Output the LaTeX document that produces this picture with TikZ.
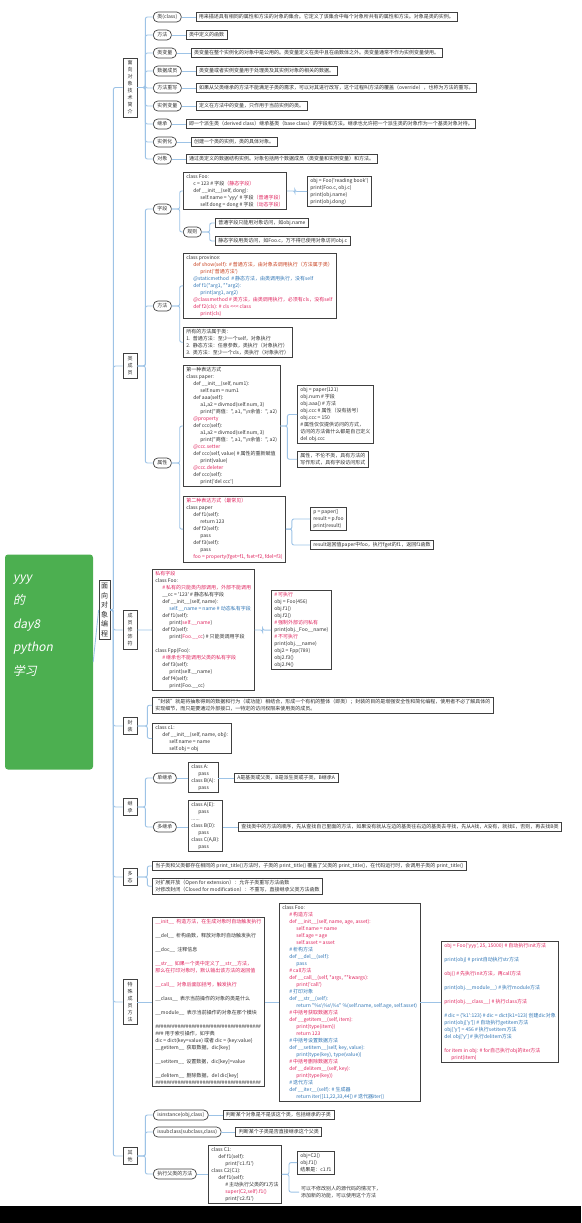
\documentclass[tikz,border=0pt]{standalone}
\usepackage{fontspec}
\setmainfont{Noto Sans CJK SC}[Ligatures=TeXOff]
\newfontfamily\rootfont{Noto Sans CJK SC}[FakeSlant=0.2]
\usetikzlibrary{positioning}
\definecolor{linkblue}{HTML}{9DC3E6}
\definecolor{edge}{HTML}{404040}
\definecolor{ink}{HTML}{303030}
\definecolor{hot}{HTML}{E0245E}
\definecolor{warm}{HTML}{C8401E}
\definecolor{cool}{HTML}{2F75B5}
\definecolor{leaf}{HTML}{4CAF50}
\newcommand\mapfont{\fontsize{5}{7}\selectfont}
\newcommand\tb{\hspace*{7pt}}
\newcommand\rtxt[1]{\textcolor{hot}{#1}}
\newcommand\otxt[1]{\textcolor{warm}{#1}}
\newcommand\btxt[1]{\textcolor{cool}{#1}}
\tikzset{
  root/.style  = {rectangle, rounded corners=3pt, fill=leaf, text=white, font=\rootfont\fontsize{12}{23.5}\selectfont, inner xsep=8pt, inner ysep=20pt, minimum width=88pt, minimum height=215pt},
  topic/.style = {draw=edge, line width=0.8pt, fill=white, align=center, font=\fontsize{7}{9.5}\selectfont, inner xsep=2pt, inner ysep=3pt, text=ink},
  sec/.style   = {draw=edge, line width=0.7pt, fill=white, align=center, font=\mapfont, inner xsep=3pt, inner ysep=3pt, text=ink, minimum width=14pt},
  lbl/.style   = {draw=edge, line width=0.7pt, rounded corners=4.5pt, fill=white, font=\mapfont, inner xsep=4pt, inner ysep=2pt, text=ink, minimum height=10pt},
  note/.style  = {draw=edge, line width=0.7pt, fill=white, align=left, font=\mapfont, inner xsep=3pt, inner ysep=2pt, text=ink},
  bare/.style  = {align=left, font=\mapfont, inner sep=2pt, text=ink},
  link/.style  = {draw=linkblue, line width=0.9pt, rounded corners=2pt},
  elbow/.style = {to path={-- ++(#1,0) |- (\tikztotarget)}},
  elbow/.default = 8
}

\begin{document}
\begin{tikzpicture}[x=1pt, y=-1pt]
  \useasboundingbox (0,0) rectangle (581,1223);
  \fill[black] (0,1206) rectangle (581,1223);

  % ---- root and main topic ----
  \node[root] (root) at (49,662) {\parbox[c][175pt][t]{72pt}{\raggedright yyy\\的\\day8\\python\\学习}};
  \node[topic] (oop) at (104.5,610) {面\\向\\对\\象\\编\\程};
  \draw[link] (root.east) -- (oop.west);

  % ---- sections ----
  \node[sec] (intro) at (130,87.5) {面\\向\\对\\象\\技\\术\\简\\介};
  \node[sec] (memb)  at (130,366)  {类\\成\\员};
  \node[sec] (modf)  at (130,630)  {成\\员\\修\\饰\\符};
  \node[sec] (encap) at (130,726)  {封\\装};
  \node[sec] (inher) at (130,807)  {继\\承};
  \node[sec] (poly)  at (130,877)  {多\\态};
  \node[sec] (spec)  at (130,1002) {特\\殊\\成\\员\\方\\法};
  \node[sec] (misc)  at (130,1156) {其\\他};
  \foreach \s in {intro,memb,modf,encap,inher,poly,spec,misc}
    \draw[link] (oop.east) to[elbow=3] (\s.west);

  % ---- 面向对象技术简介 ----
  \node[lbl,anchor=west] (cls)  at (153,17)  {类(class)};
  \node[lbl,anchor=west] (mth)  at (153,35)  {方法};
  \node[lbl,anchor=west] (cvar) at (153,53)  {类变量};
  \node[lbl,anchor=west] (dmem) at (153,71)  {数据成员};
  \node[lbl,anchor=west] (ovr)  at (153,88)  {方法重写};
  \node[lbl,anchor=west] (ivar) at (153,106) {实例变量};
  \node[lbl,anchor=west] (inh)  at (153,124) {继承};
  \node[lbl,anchor=west] (inst) at (153,142) {实例化};
  \node[lbl,anchor=west] (objt) at (153,159) {对象};
  \node[note,right=14pt of cls]  (cls-d)  {用来描述具有相同的属性和方法的对象的集合。它定义了该集合中每个对象所共有的属性和方法。对象是类的实例。};
  \node[note,right=14pt of mth]  (mth-d)  {类中定义的函数};
  \node[note,right=14pt of cvar] (cvar-d) {类变量在整个实例化的对象中是公用的。类变量定义在类中且在函数体之外。类变量通常不作为实例变量使用。};
  \node[note,right=14pt of dmem] (dmem-d) {类变量或者实例变量用于处理类及其实例对象的相关的数据。};
  \node[note,right=14pt of ovr]  (ovr-d)  {如果从父类继承的方法不能满足子类的需求，可以对其进行改写，这个过程叫方法的覆盖（override），也称为方法的重写。};
  \node[note,right=14pt of ivar] (ivar-d) {定义在方法中的变量，只作用于当前实例的类。};
  \node[note,right=14pt of inh]  (inh-d)  {即一个派生类（derived class）继承基类（base class）的字段和方法。继承也允许把一个派生类的对象作为一个基类对象对待。};
  \node[note,right=14pt of inst] (inst-d) {创建一个类的实例，类的具体对象。};
  \node[note,right=14pt of objt] (objt-d) {通过类定义的数据结构实例。对象包括两个数据成员（类变量和实例变量）和方法。};
  \foreach \a in {cls,mth,cvar,dmem,ovr,ivar,inh,inst,objt} {
    \draw[link] (intro.east) to[elbow] (\a.west);
    \draw[link] (\a.east) -- (\a-d.west);
  }

  % ---- 类成员: 字段 ----
  \node[lbl,anchor=west] (fld) at (153,209) {字段};
  \node[note,anchor=north west] (fld-code) at (183,172) {class Foo:\\
    \tb c = 123 \# 字段\rtxt{（静态字段）}\\
    \tb def \_\_init\_\_(self, dong):\\
    \tb\tb self.name = 'yyy' \# 字段\rtxt{（普通字段）}\\
    \tb\tb self.dong = dong \# 字段\rtxt{（动态字段）}};
  \node[note,anchor=north west] (fld-use) at (307,176) {obj = Foo('reading book')\\print(Foo.c, obj.c)\\print(obj.name)\\print(obj.dong)};
  \node[lbl,anchor=west] (rule) at (183,232) {规则};
  \node[note,anchor=west] (rule-a) at (215,223) {普通字段只能用对象访问，如obj.name};
  \node[note,anchor=west] (rule-b) at (215,241) {静态字段用类访问，如Foo.c，万不得已使用对象访问obj.c};
  \draw[link] (memb.east) to[elbow] (fld.west);
  \draw[link] (fld.east) to[elbow] (fld-code.west);
  \draw[link] (fld.east) to[elbow] (rule.west);
  \draw[link] (fld-code.east) to[elbow] (fld-use.west);
  \draw[link] (rule.east) to[elbow] (rule-a.west);
  \draw[link] (rule.east) to[elbow] (rule-b.west);

  % ---- 类成员: 方法 ----
  \node[lbl,anchor=west] (mtd) at (153,306) {方法};
  \node[note,anchor=north west] (mtd-code) at (183,253) {class province:\\
    \tb\otxt{def show(self): \# 普通方法，由对象去调用执行（方法属于类）}\\
    \tb\tb\otxt{print('普通方法')}\\
    \tb\btxt{@staticmethod\ \ \# 静态方法，由类调用执行，没有self}\\
    \tb\btxt{def f1(*arg1, **arg2):}\\
    \tb\tb\btxt{print(arg1, arg2)}\\
    \tb\rtxt{@classmethod \# 类方法，由类调用执行，必须有cls，没有self}\\
    \tb\rtxt{def f2(cls): \# cls <{}<{}< class}\\
    \tb\tb\rtxt{print(cls)}};
  \node[note,anchor=north west] (mtd-note) at (183,327) {所有的方法属于类：\\
    1.\ \ 普通方法：至少一个self，对象执行\\
    2.\ \ 静态方法：任意参数，类执行（对象执行）\\
    3.\ \ 类方法：至少一个cls，类执行（对象执行）};
  \draw[link] (memb.east) to[elbow] (mtd.west);
  \draw[link] (mtd.east) to[elbow] (mtd-code.west);
  \draw[link] (mtd.east) to[elbow] (mtd-note.west);

  % ---- 类成员: 属性 ----
  \node[lbl,anchor=west] (prop) at (153,463) {属性};
  \node[note,anchor=north west] (prop-a) at (183,365) {第一种表达方式\\
    class paper:\\
    \tb def \_\_init\_\_(self, num1):\\
    \tb\tb self.num = num1\\
    \tb def aaa(self):\\
    \tb\tb a1,a2 = divmod(self.num, 3)\\
    \tb\tb print("商值：", a1, "\textbackslash n余值：", a2)\\
    \tb\rtxt{@property}\\
    \tb def ccc(self):\\
    \tb\tb a1,a2 = divmod(self.num, 3)\\
    \tb\tb print("商值：", a1, "\textbackslash n余值：", a2)\\
    \tb\rtxt{@ccc.setter}\\
    \tb def ccc(self, value) \# 属性的重新赋值\\
    \tb\tb print(value)\\
    \tb\rtxt{@ccc.deleter}\\
    \tb def ccc(self):\\
    \tb\tb print('del ccc')};
  \node[note,anchor=north west] (prop-a-use) at (297,385) {obj = paper(121)\\obj.num \# 字段\\obj.aaa() \# 方法\\obj.ccc \# 属性（没有括号）\\obj.ccc = 150\\\# 属性仅仅提供访问的方式，\\访问的方法做什么都是自己定义\\del obj.ccc};
  \node[note,anchor=north west] (prop-a-note) at (297,451) {属性，不伦不类，具有方法的\\写作形式，具有字段访问形式};
  \node[note,anchor=north west] (prop-b) at (183,496) {\rtxt{第二种表达方式（最常见）}\\
    class paper\\
    \tb def f1(self):\\
    \tb\tb return 123\\
    \tb def f2(self):\\
    \tb\tb pass\\
    \tb def f3(self):\\
    \tb\tb pass\\
    \tb\rtxt{foo = property(fget=f1, fset=f2, fdel=f3)}};
  \node[note,anchor=north west] (prop-b-use) at (310,507) {p = paper()\\result = p.foo\\print(result)};
  \node[note,anchor=west] (prop-b-note) at (310,545) {result返回值paper中foo，执行fget的f1，返回f1函数};
  \draw[link] (memb.east) to[elbow] (prop.west);
  \draw[link] (prop.east) to[elbow] (prop-a.west);
  \draw[link] (prop.east) to[elbow] (prop-b.west);
  \draw[link] (prop-a.east) to[elbow=7] (prop-a-use.west);
  \draw[link] (prop-a.east) to[elbow=7] (prop-a-note.west);
  \draw[link] (prop-b.east) to[elbow=6] (prop-b-use.west);
  \draw[link] (prop-b.east) to[elbow=6] (prop-b-note.west);

  % ---- 成员修饰符 ----
  \node[note,anchor=north west] (priv) at (152,569) {\rtxt{私有字段}\\
    class Foo:\\
    \tb\rtxt{\# 私有的只能类内部调用，外部不能调用}\\
    \tb\_\_cc = '123' \# 静态私有字段\\
    \tb def \_\_init\_\_(self, name):\\
    \tb\tb\btxt{self.\_\_name = name \# 动态私有字段}\\
    \tb def f1(self):\\
    \tb\tb print(\rtxt{self.\_\_name})\\
    \tb def f2(self):\\
    \tb\tb print(\rtxt{Foo.\_\_cc}) \# 只能类调用字段\\[7pt]
    class Fpp(Foo):\\
    \tb\rtxt{\# 继承也不能调用父类的私有字段}\\
    \tb def f3(self):\\
    \tb\tb print(self.\_\_name)\\
    \tb def f4(self):\\
    \tb\tb print(Foo.\_\_cc)};
  \node[note,anchor=north west] (priv-use) at (271,590) {\rtxt{\# 可执行}\\obj = Foo(456)\\obj.f1()\\obj.f2()\\\rtxt{\# 强制外部访问私有}\\print(obj.\_Foo\_\_name)\\\rtxt{\# 不可执行}\\print(obj.\_\_name)\\obj2 = Fpp(789)\\obj2.f3()\\obj2.f4()};
  \draw[link] (modf.east) -- (priv.west);
  \draw[link] (priv.east) to[elbow] (priv-use.west);

  % ---- 封装 ----
  \node[note,anchor=north west] (enc-a) at (152,697) {“封装”就是将抽象得到的数据和行为（或功能）相结合，形成一个有机的整体（即类）；封装的目的是增强安全性和简化编程，使用者不必了解具体的\\实现细节，而只是要通过外部接口，一特定的访问权限来使用类的成员。};
  \node[note,anchor=north west] (enc-b) at (152,723) {class c1:\\\tb def \_\_init\_\_(self, name, obj):\\\tb\tb self.name = name\\\tb\tb self.obj = obj};
  \draw[link] (encap.east) to[elbow=10] (enc-a.west);
  \draw[link] (encap.east) to[elbow=10] (enc-b.west);

  % ---- 继承 ----
  \node[lbl,anchor=west] (single) at (153,778) {单继承};
  \node[note,anchor=north west] (single-code) at (188,762) {class A:\\\tb pass\\class B(A):\\\tb pass};
  \node[note,anchor=west] (single-note) at (234,778) {A是基类或父类，B是派生类或子类，B继承A};
  \node[lbl,anchor=west] (multi) at (153,827) {多继承};
  \node[note,anchor=north west] (multi-code) at (188,800) {class A(E):\\\tb pass\\......\\class B(D):\\\tb pass\\class C(A,B):\\\tb pass};
  \node[note,anchor=west] (multi-note) at (238,827) {查找类中的方法的顺序，先从查找自己里面的方法，如果没有就从左边的基类往右边的基类去寻找，先从A找，A没有，就找E，否则，再去找B类};
  \draw[link] (inher.east) to[elbow] (single.west);
  \draw[link] (inher.east) to[elbow] (multi.west);
  \draw[link] (single.east) -- (single-code.west |- single.east);
  \draw[link] (single-code.east |- single.east) -- (single-note.west);
  \draw[link] (multi.east) -- (multi-code.west |- multi.east);
  \draw[link] (multi-code.east |- multi.east) -- (multi-note.west);

  % ---- 多态 ----
  \node[note,anchor=west] (poly-a) at (152,866) {当子类和父类都存在相同的 print\_title()方法时，子类的 print\_title() 覆盖了父类的 print\_title()，在代码运行时，会调用子类的 print\_title()};
  \node[note,anchor=north west] (poly-b) at (152,878) {对扩展开放（Open for extension）：允许子类重写方法函数\\对修改封闭（Closed for modification）：不重写，直接继承父类方法函数};
  \draw[link] (poly.east) to[elbow=10] (poly-a.west);
  \draw[link] (poly.east) to[elbow=10] (poly-b.west);

  % ---- 特殊成员方法 ----
  \node[note,anchor=north west] (sp-left) at (152,917) {\rtxt{\_\_init\_\_\ \ 构造方法，在生成对象时自动触发执行}\\[7pt]
    \_\_del\_\_\ \ 析构函数，释放对象时自动触发执行\\[7pt]
    \_\_doc\_\_\ \ 注释信息\\[7pt]
    \rtxt{\_\_str\_\_\ \ 如果一个类中定义了\_\_str\_\_方法，}\\
    \rtxt{那么在打印对象时，默认输出该方法的返回值}\\[7pt]
    \rtxt{\_\_call\_\_\ \ 对象后面加括号，触发执行}\\[7pt]
    \_\_class\_\_\ \ 表示当前操作的对象的类是什么\\[7pt]
    \_\_module\_\_\ \ 表示当前操作的对象在那个模块\\[7pt]
    \#\#\#\#\#\#\#\#\#\#\#\#\#\#\#\#\#\#\#\#\#\#\#\#\#\#\#\#\#\#\#\#\#\#\#\#\#\#\\
    \#\#\# 用于索引操作，如字典\\
    dic = dict(key=value) 或者 dic = \{key:value\}\\
    \_\_getitem\_\_\ \ 获取数据，dic[key]\\[7pt]
    \_\_setitem\_\_\ \ 设置数据，dic[key]=value\\[7pt]
    \_\_delitem\_\_\ \ 删除数据，del dic[key]\\
    \#\#\#\#\#\#\#\#\#\#\#\#\#\#\#\#\#\#\#\#\#\#\#\#\#\#\#\#\#\#\#\#\#\#\#\#\#\#};
  \node[note,anchor=north west] (sp-mid) at (279,903) {class Foo:\\
    \tb\rtxt{\# 构造方法}\\
    \tb\rtxt{def \_\_init\_\_(self, name, age, asset):}\\
    \tb\tb\rtxt{self.name = name}\\
    \tb\tb\rtxt{self.age = age}\\
    \tb\tb\rtxt{self.asset = asset}\\
    \tb\btxt{\# 析构方法}\\
    \tb\btxt{def \_\_del\_\_(self):}\\
    \tb\tb\btxt{pass}\\
    \tb\rtxt{\# call方法}\\
    \tb\rtxt{def \_\_call\_\_(self, *args, **kwargs):}\\
    \tb\tb\rtxt{print('call')}\\
    \tb\btxt{\# 打印对象}\\
    \tb\btxt{def \_\_str\_\_(self):}\\
    \tb\tb\btxt{return "\%s\textbackslash\%s\textbackslash\%s" \%(self.name, self.age, self.asset)}\\
    \tb\rtxt{\# 中括号获取数据方法}\\
    \tb\rtxt{def \_\_getitem\_\_(self, item):}\\
    \tb\tb\rtxt{print(type(item))}\\
    \tb\tb\rtxt{return 123}\\
    \tb\btxt{\# 中括号设置数据方法}\\
    \tb\btxt{def \_\_setitem\_\_(self, key, value):}\\
    \tb\tb\btxt{print(type(key), type(value))}\\
    \tb\rtxt{\# 中括号删除数据方法}\\
    \tb\rtxt{def \_\_delitem\_\_(self, key):}\\
    \tb\tb\rtxt{print(type(key))}\\
    \tb\btxt{\# 迭代方法}\\
    \tb\btxt{def \_\_iter\_\_(self): \# 生成器}\\
    \tb\tb\btxt{return iter([11,22,33,44]) \# 迭代器iter()}};
  \node[note,anchor=north west] (sp-right) at (441,941) {\rtxt{obj = Foo('yyy', 25, 15000) \# 自动执行init方法}\\[7pt]
    \btxt{print(obj) \# print自动执行str方法}\\[7pt]
    \rtxt{obj() \# 先执行init方法，再call方法}\\[7pt]
    \btxt{print(obj.\_\_module\_\_) \# 执行module方法}\\[7pt]
    \rtxt{print(obj.\_\_class\_\_) \# 执行class方法}\\[7pt]
    \btxt{\# dic = \{'k1':123\} \# dic = dict(k1=123) 创建dic对象}\\
    \btxt{print(obj['y']) \# 自动执行getitem方法}\\
    \btxt{obj['y'] = 456 \# 执行setitem方法}\\
    \btxt{del obj['y'] \# 执行delitem方法}\\[7pt]
    \rtxt{for item in obj: \# for自己执行obj的iter方法}\\
    \tb\rtxt{print(item)}};
  \draw[link] (spec.east) -- (sp-left.west |- spec.east);
  \draw[link] (sp-left.east |- spec.east) -- (sp-mid.west |- spec.east);
  \draw[link] (sp-mid.east |- spec.east) -- (sp-right.west |- spec.east);

  % ---- 其他 ----
  \node[lbl,anchor=west] (isin)    at (153,1115) {isinstance(obj,class)};
  \node[lbl,anchor=west] (issub)   at (153,1132) {issubclass(subclass,class)};
  \node[lbl,anchor=west] (callsup) at (153,1174) {执行父类的方法};
  \node[note,right=14pt of isin]  (isin-note)  {判断某个对象是不是该这个类，包括继承的子类};
  \node[note,right=14pt of issub] (issub-note) {判断某个子类是否直接继承这个父类};
  \node[note,anchor=north west] (sup-code) at (208,1145) {class C1:\\
    \tb def f1(self):\\
    \tb\tb print('c1.f1')\\
    class C2(C1):\\
    \tb def f1(self):\\
    \tb\tb\# 主动执行父类的f1方法\\
    \tb\tb\rtxt{super(C2,self).f1()}\\
    \tb\tb print('c2.f1')};
  \node[note,anchor=north west] (sup-use) at (297,1151) {obj=C2()\\obj.f1()\\结果是：c1.f1};
  \node[bare,anchor=north west] (sup-note) at (299,1184) {可以不修改别人的源代码的情况下，\\添加新的功能，可以使用这个方法};
  \draw[link] (misc.east) to[elbow] (isin.west);
  \draw[link] (misc.east) to[elbow] (issub.west);
  \draw[link] (misc.east) to[elbow] (callsup.west);
  \draw[link] (isin.east) -- (isin-note.west);
  \draw[link] (issub.east) -- (issub-note.west);
  \draw[link] (callsup.east) -- (sup-code.west |- callsup.east);
  \draw[link] (sup-code.east) to[elbow=7] (sup-use.west);
  \draw[link] (sup-code.east) to[elbow=7] (sup-note.west);

\end{tikzpicture}
\end{document}
